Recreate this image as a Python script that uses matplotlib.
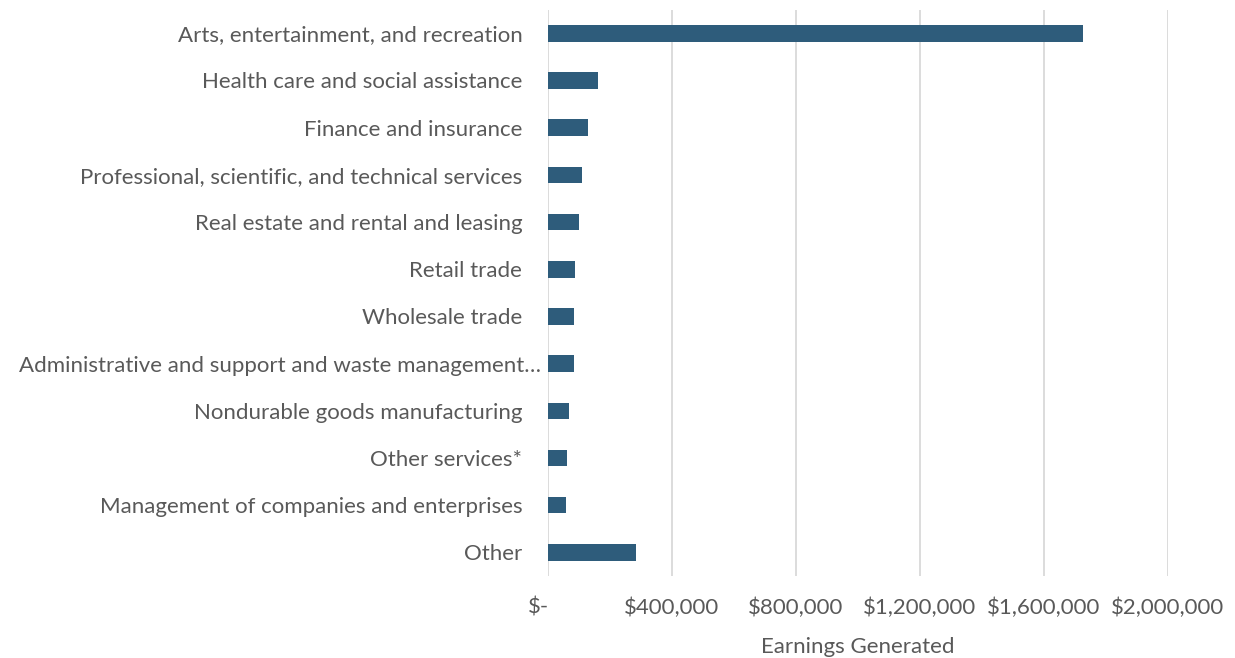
import matplotlib.pyplot as plt
import matplotlib.transforms as mtransforms
from matplotlib.ticker import FuncFormatter

# Industry earnings
industries = [
    'Arts, entertainment, and recreation',
    'Health care and social assistance',
    'Finance and insurance',
    'Professional, scientific, and technical services',
    'Real estate and rental and leasing',
    'Retail trade',
    'Wholesale trade',
    'Administrative and support and waste management\u2026',
    'Nondurable goods manufacturing',
    'Other services*',
    'Management of companies and enterprises',
    'Other',
]
earnings = [1728000, 161000, 128000, 110000, 99000, 88000,
            85000, 83000, 66500, 61000, 58000, 282500]
xticks = [0, 400000, 800000, 1200000, 1600000, 2000000]

plt.rcParams['font.family'] = ['Lato', 'DejaVu Sans']
text_color = '#595959'
bar_color = '#2E5C7B'

fig = plt.figure(figsize=(12.35, 6.58), dpi=100)
ax = fig.add_axes([0.4437, 0.1246, 0.5018, 0.8607])

y = list(range(len(industries)))
ax.barh(y, earnings, height=0.35, color=bar_color, zorder=3)
ax.set_ylim(len(industries) - 0.5, -0.5)
ax.set_xlim(0, 2000000)

ax.set_yticks(y)
ax.set_yticklabels(industries, fontsize=16, color=text_color)
ax.set_xticks(xticks)


def money(v, pos):
    if v == 0:
        return '$-'
    return '${:,.0f}'.format(v)


ax.xaxis.set_major_formatter(FuncFormatter(money))
ax.tick_params(axis='x', length=0, pad=15.5, labelsize=16, labelcolor=text_color)
ax.tick_params(axis='y', length=0, pad=18.5)
ax.set_xlabel('Earnings Generated', fontsize=16, color=text_color, labelpad=14)

ax.grid(axis='x', color='#D9D9D9', linewidth=1.3, zorder=0)
for s in ax.spines.values():
    s.set_visible(False)

# the truncated label sits closer to the axis, "$-" sits left of zero
fig.canvas.draw()
lbl = ax.get_yticklabels()[7]
lbl.set_transform(lbl.get_transform() +
                  mtransforms.ScaledTranslation(19 / 100, 0, fig.dpi_scale_trans))
zero = ax.get_xticklabels()[0]
zero.set_transform(zero.get_transform() +
                   mtransforms.ScaledTranslation(-9 / 100, 0, fig.dpi_scale_trans))

fig.savefig('out.png', dpi=100)
